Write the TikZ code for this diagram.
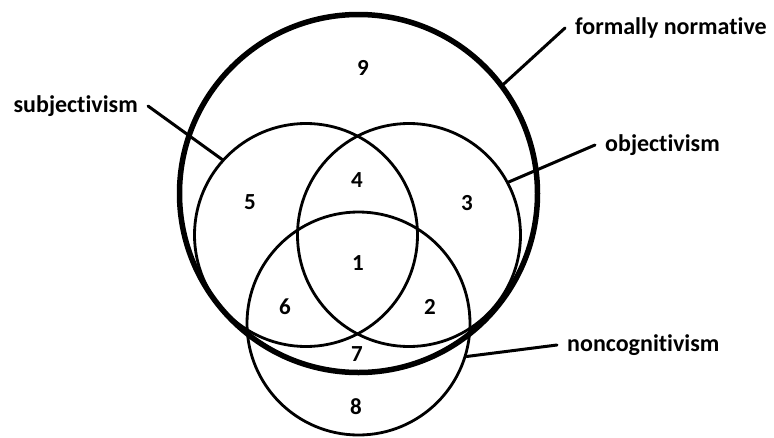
\documentclass[tikz,border=0pt]{standalone}
\usepackage{fontspec}
\setmainfont{Carlito}[Ligatures=NoCommon]
\usepackage{tikz}
\tikzset{
  setcirc/.style={circle,draw=black,line width=2.8pt,inner sep=0pt,minimum size=223pt},
  bigcirc/.style={circle,draw=black,line width=5.5pt,inner sep=0pt,minimum size=358pt},
  lbl/.style={font=\bfseries\fontsize{24}{28}\selectfont,inner xsep=10pt,inner ysep=0pt},
  num/.style={font=\bfseries\fontsize{23}{27}\selectfont,inner sep=0pt},
  leader/.style={line width=3pt,line cap=round}
}

\begin{document}
\begin{tikzpicture}[x=1pt,y=-1pt]
\useasboundingbox (0,0) rectangle (774,437);
% the four sets
\node[bigcirc] (fn) at (358.5,193.5) {};
\node[setcirc] (sub) at (306,235) {};
\node[setcirc] (obj) at (409,235) {};
\node[setcirc] (non) at (358.5,323.5) {};
% region numbers
\node[num] (r1) at (358,263) {1};
\node[num] (r2) at (430,307) {2};
\node[num] (r3) at (467,203) {3};
\node[num] (r4) at (357,180) {4};
\node[num] (r5) at (250,202) {5};
\node[num] (r6) at (285,307) {6};
\node[num] (r7) at (357,354) {7};
\node[num] (r8) at (356,407) {8};
\node[num] (r9) at (363,68) {9};
% labels and leaders
\node[lbl,anchor=west] (lfn) at (565,28) {formally normative};
\node[lbl,anchor=east] (lsub) at (148,106) {subjectivism};
\node[lbl,anchor=west] (lobj) at (595,145) {objectivism};
\node[lbl,anchor=west] (lnon) at (557,345) {noncognitivism};
\draw[leader] (lfn.west) -- (fn.37);
\draw[leader] (lsub.east) -- (sub.138);
\draw[leader] (lobj.west) -- (obj.28);
\draw[leader] (lnon.west) -- (non.-17);
\end{tikzpicture}
\end{document}
